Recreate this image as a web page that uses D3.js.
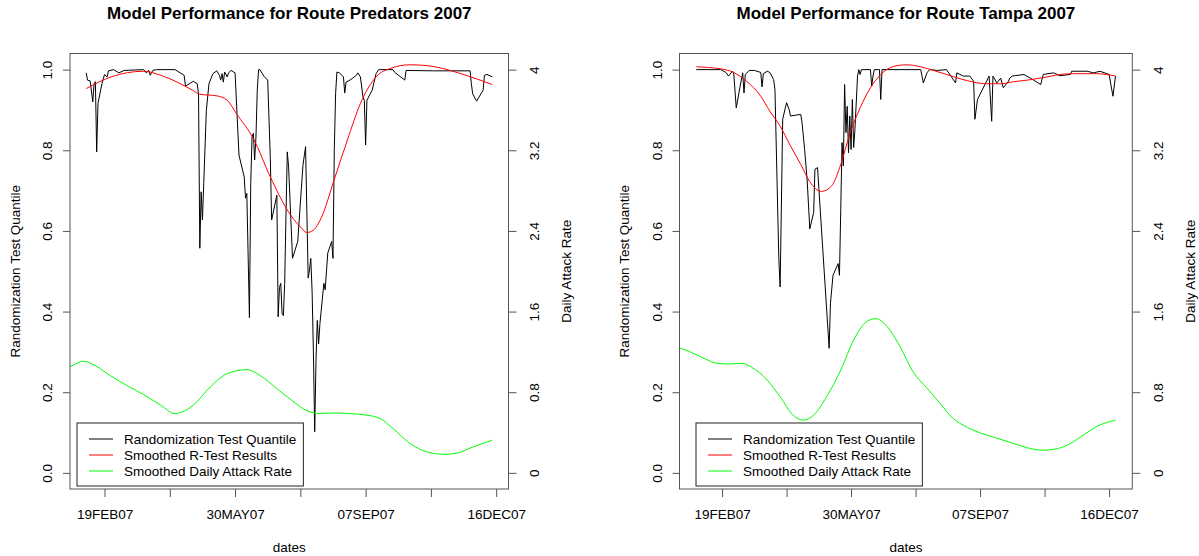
<!DOCTYPE html>
<html>
<head>
<meta charset="utf-8">
<script src="https://cdn.jsdelivr.net/npm/d3@7"></script>
<style>
  body { margin: 0; background: #fff; }
  svg { display: block; }
  text { font-family: "Liberation Sans", Arial, Helvetica, sans-serif; fill: #000; }
</style>
</head>
<body>
<svg id="chart" width="1199" height="556"></svg>
<script>
// ---- Route Predators 2007: [day of year, value] ----
const predatorsQuantile = [
  [36,0.992],[37,0.974],[39,0.972],[41,0.92],[42,0.965],[43,0.97],[44,0.796],[45,0.916],
  [48,0.965],[50,0.988],[52,0.982],[53,0.997],[57,1.0],[61,0.992],[65,0.998],[80,1.0],
  [82,0.992],[84,0.998],[85,0.986],[87,0.998],[90,1.0],[104,1.0],[111,0.986],[112,0.959],
  [118,0.971],[121,0.965],[122,0.94],[123,0.557],[124,0.697],[125,0.627],[126,0.718],[128,0.899],
  [130,0.965],[133,0.99],[136,0.997],[138,0.986],[139,0.974],[140,0.99],[141,0.969],[142,0.994],
  [144,0.982],[145,0.992],[147,0.998],[149,0.994],[150,0.992],[153,0.788],[157,0.734],[158,0.681],
  [159,0.693],[161,0.385],[162,0.718],[163,0.833],[164,0.842],[165,0.776],[166,0.833],[167,0.949],
  [168,1.0],[169,1.0],[172,0.984],[175,0.974],[177,0.78],[178,0.627],[182,0.689],[183,0.387],
  [184,0.46],[185,0.47],[186,0.395],[187,0.39],[188,0.47],[189,0.64],[190,0.796],[191,0.759],
  [194,0.532],[198,0.574],[202,0.763],[204,0.809],[205,0.644],[206,0.483],[207,0.503],[208,0.532],
  [209,0.45],[210,0.3],[211,0.102],[212,0.28],[213,0.378],[214,0.32],[215,0.37],[218,0.47],
  [219,0.454],[221,0.545],[224,0.574],[225,0.532],[226,0.8],[227,0.94],[228,0.994],[230,0.992],
  [233,0.982],[234,0.942],[235,0.969],[238,0.974],[243,0.986],[244,0.992],[246,0.982],[248,0.932],
  [249,0.924],[250,0.813],[251,0.924],[255,0.949],[258,0.99],[260,1.0],[271,1.0],[272,0.994],
  [280,0.974],[281,0.998],[302,0.997],[330,0.997],[331,0.965],[332,0.94],[335,0.922],[340,0.949],
  [341,0.986],[343,0.988],[347,0.982]
];
const predatorsSmoothR = [
  [36,0.953],[55,0.982],[80,0.996],[93,0.986],[118,0.948],[123,0.939],[136,0.935],[144,0.924],
  [151,0.891],[164,0.829],[177,0.734],[190,0.652],[200,0.61],[205,0.596],[210,0.602],[218,0.648],
  [225,0.718],[236,0.825],[246,0.916],[258,0.982],[269,1.003],[284,1.012],[297,1.01],[309,1.003],
  [322,0.991],[335,0.977],[347,0.963]
];
const predatorsAttackRate = [
  [20,1.03],[24,1.055],[34,1.107],[42,1.07],[54,0.968],[67,0.868],[80,0.776],[93,0.672],
  [104,0.588],[118,0.672],[131,0.852],[144,0.984],[159,1.024],[169,0.968],[182,0.836],[195,0.704],
  [205,0.616],[215,0.588],[225,0.594],[238,0.588],[251,0.572],[261,0.54],[271,0.44],[284,0.292],
  [297,0.208],[310,0.184],[320,0.196],[332,0.256],[347,0.324]
];

// ---- Route Tampa 2007: [day of year, value] ----
const tampaQuantile = [
  [30,1.0],[49,1.0],[53,0.993],[55,0.984],[58,0.996],[59,0.992],[61,0.905],[64,0.959],
  [66,0.992],[67,0.942],[68,0.988],[71,0.998],[75,0.998],[80,0.993],[81,0.957],[82,0.99],
  [85,0.996],[87,0.993],[90,0.975],[91,0.95],[94,0.531],[95,0.461],[97,0.877],[99,0.905],
  [100,0.918],[102,0.901],[103,0.885],[111,0.889],[112,0.868],[114,0.802],[116,0.724],[118,0.605],
  [121,0.646],[122,0.753],[124,0.757],[133,0.309],[134,0.42],[136,0.49],[140,0.519],[141,0.49],
  [142,0.654],[143,0.819],[144,0.761],[145,0.963],[146,0.844],[147,0.909],[148,0.794],[149,0.885],
  [150,0.802],[151,0.926],[152,0.807],[153,0.852],[155,0.984],[156,1.0],[157,0.988],[158,1.0],
  [165,1.0],[166,0.959],[167,0.984],[168,1.0],[172,1.0],[173,0.926],[174,1.0],[204,1.0],
  [206,0.967],[209,0.993],[211,1.0],[217,0.998],[224,1.0],[231,0.967],[232,0.992],[237,0.984],
  [242,0.984],[245,0.971],[246,0.877],[248,0.926],[257,0.984],[259,0.872],[260,0.984],[263,0.967],
  [266,0.979],[268,0.955],[272,0.971],[273,0.979],[275,0.984],[284,0.988],[291,0.975],[297,0.963],
  [299,0.988],[307,0.992],[312,0.985],[320,0.988],[321,0.996],[333,0.996],[338,0.992],[343,0.996],
  [350,0.988],[353,0.934],[355,0.984]
];
const tampaSmoothR = [
  [30,1.007],[49,1.002],[59,0.993],[69,0.971],[80,0.934],[87,0.897],[95,0.86],[103,0.811],
  [111,0.765],[118,0.722],[127,0.698],[135,0.712],[142,0.765],[149,0.84],[157,0.905],[165,0.955],
  [173,0.988],[183,1.008],[193,1.012],[204,1.007],[214,0.998],[224,0.988],[235,0.977],[245,0.969],
  [255,0.965],[266,0.965],[276,0.97],[289,0.975],[302,0.982],[315,0.989],[328,0.99],[340,0.99],
  [348,0.988],[355,0.984]
];
const tampaAttackRate = [
  [14,1.25],[18,1.235],[25,1.202],[36,1.136],[46,1.087],[56,1.08],[65,1.087],[73,1.047],
  [85,0.921],[95,0.755],[105,0.573],[113,0.523],[121,0.573],[131,0.755],[142,1.02],[152,1.318],
  [162,1.5],[169,1.53],[178,1.451],[188,1.252],[198,1.003],[209,0.838],[219,0.689],[229,0.54],
  [237,0.473],[250,0.397],[260,0.357],[276,0.291],[289,0.241],[299,0.225],[310,0.241],[320,0.291],
  [330,0.374],[340,0.457],[355,0.523]
];

// ---- Axis ticks and labels ----
const dateTicks = ["2007-02-19","2007-04-10","2007-05-30","2007-07-19","2007-09-07","2007-10-27","2007-12-16"];
const dateTickLabels = ["19FEB07","","30MAY07","","07SEP07","","16DEC07"];
const quantileTicks = [0, 0.2, 0.4, 0.6, 0.8, 1.0];
const rateTicks = [0, 0.8, 1.6, 2.4, 3.2, 4];
const quantileRange = [0, 1];
const rateRange = [0, 4];

const chartTitles = ["Model Performance for Route Predators 2007", "Model Performance for Route Tampa 2007"];
const seriesNames = ["Randomization Test Quantile", "Smoothed R-Test Results", "Smoothed Daily Attack Rate"];
const seriesColors = ["#000000", "#ff0000", "#00ff00"];

// ---- Layout ----
const svg = d3.select("#chart");
const plotTop = 53.5, plotBottom = 489;
const panels = [
  { title: chartTitles[0], left: 70, right: 508.5, legendLeft: 77,
    quantile: predatorsQuantile, smooth: predatorsSmoothR, rate: predatorsAttackRate },
  { title: chartTitles[1], left: 679.5, right: 1132.3, legendLeft: 696,
    quantile: tampaQuantile, smooth: tampaSmoothR, rate: tampaAttackRate }
];

const baseUtc = Date.UTC(2007, 0, 1);
const dayToDate = n => new Date(baseUtc + (n - 1) * 864e5);
const parseDate = d3.utcParse("%Y-%m-%d");
const pad4 = ([a, b]) => { const p = (b - a) * 0.04; return [a - p, b + p]; };

const frameColor = "#555";
const fontSize = 13.5;

panels.forEach((p, i) => {
  const g = svg.append("g");
  const dayExtent = pad4(d3.extent(p.quantile, d => d[0]));
  const x = d3.scaleUtc()
    .domain([dayToDate(dayExtent[0]), dayToDate(dayExtent[1])])
    .range([p.left, p.right]);
  const y = d3.scaleLinear().domain(pad4(quantileRange)).range([plotBottom, plotTop]);
  const yRate = d3.scaleLinear().domain(pad4(rateRange)).range([plotBottom, plotTop]);

  const clipId = "clip" + i;
  svg.append("clipPath").attr("id", clipId).append("rect")
    .attr("x", p.left).attr("y", plotTop)
    .attr("width", p.right - p.left).attr("height", plotBottom - plotTop);

  const plot = g.append("g").attr("clip-path", `url(#${clipId})`);

  const rawLine = d3.line().x(d => x(dayToDate(d[0]))).y(d => y(d[1]));
  const smoothLine = d3.line().curve(d3.curveMonotoneX)
    .x(d => x(dayToDate(d[0]))).y(d => y(d[1]));
  const rateLine = d3.line().curve(d3.curveMonotoneX)
    .x(d => x(dayToDate(d[0]))).y(d => yRate(d[1]));

  plot.append("path").datum(p.quantile).attr("d", rawLine)
    .attr("fill", "none").attr("stroke", seriesColors[0]).attr("stroke-width", 1);
  plot.append("path").datum(p.smooth).attr("d", smoothLine)
    .attr("fill", "none").attr("stroke", seriesColors[1]).attr("stroke-width", 1);
  plot.append("path").datum(p.rate).attr("d", rateLine)
    .attr("fill", "none").attr("stroke", seriesColors[2]).attr("stroke-width", 1);

  // frame
  g.append("rect")
    .attr("x", p.left).attr("y", plotTop)
    .attr("width", p.right - p.left).attr("height", plotBottom - plotTop)
    .attr("fill", "none").attr("stroke", frameColor).attr("stroke-width", 1);

  // bottom axis
  const xAxis = d3.axisBottom(x)
    .tickValues(dateTicks.map(parseDate))
    .tickFormat((d, k) => dateTickLabels[k])
    .tickSize(8).tickPadding(12);
  const gx = g.append("g").attr("transform", `translate(0,${plotBottom})`).call(xAxis);
  gx.select(".domain").remove();
  gx.selectAll(".tick line").attr("stroke", frameColor);
  gx.selectAll("text").attr("font-size", fontSize).attr("font-family", null);

  // left axis (quantile)
  const yAxis = d3.axisLeft(y).tickValues(quantileTicks).tickFormat(d3.format(".1f")).tickSize(7);
  const gy = g.append("g").attr("transform", `translate(${p.left},0)`).call(yAxis);
  gy.select(".domain").remove();
  gy.selectAll(".tick line").attr("stroke", frameColor);
  gy.selectAll("text")
    .attr("x", null).attr("dy", "0.35em").attr("text-anchor", "middle")
    .attr("transform", "translate(-22.5,0) rotate(-90)")
    .attr("font-size", fontSize).attr("font-family", null);

  // right axis (attack rate)
  const rAxis = d3.axisRight(yRate).tickValues(rateTicks).tickFormat(d3.format("~g")).tickSize(8);
  const gr = g.append("g").attr("transform", `translate(${p.right},0)`).call(rAxis);
  gr.select(".domain").remove();
  gr.selectAll(".tick line").attr("stroke", frameColor);
  gr.selectAll("text")
    .attr("x", null).attr("dy", "0.35em").attr("text-anchor", "middle")
    .attr("transform", "translate(26,0) rotate(-90)")
    .attr("font-size", fontSize).attr("font-family", null);

  const cx = (p.left + p.right) / 2, cy = (plotTop + plotBottom) / 2;

  // titles
  g.append("text").attr("x", cx).attr("y", 19).attr("text-anchor", "middle")
    .attr("font-size", 17).attr("font-weight", "bold").text(p.title);
  g.append("text").attr("x", cx).attr("y", 552).attr("text-anchor", "middle")
    .attr("font-size", fontSize).text("dates");
  g.append("text").attr("text-anchor", "middle").attr("dy", "0.35em")
    .attr("transform", `translate(${p.left - 55},${cy}) rotate(-90)`)
    .attr("font-size", fontSize).text("Randomization Test Quantile");
  g.append("text").attr("text-anchor", "middle").attr("dy", "0.35em")
    .attr("transform", `translate(${p.right + 58},${cy}) rotate(-90)`)
    .attr("font-size", fontSize).text("Daily Attack Rate");

  // legend
  const lg = g.append("g");
  const rowY = [439, 455, 471];
  const box = lg.append("rect").attr("fill", "#fff").attr("stroke", "#222").attr("stroke-width", 1);
  let maxW = 0;
  seriesNames.forEach((name, k) => {
    lg.append("line")
      .attr("x1", p.legendLeft + 12).attr("x2", p.legendLeft + 36)
      .attr("y1", rowY[k]).attr("y2", rowY[k])
      .attr("stroke", seriesColors[k]).attr("stroke-width", 1);
    const t = lg.append("text")
      .attr("x", p.legendLeft + 47).attr("y", rowY[k]).attr("dy", "0.35em")
      .attr("font-size", fontSize).text(name);
    maxW = Math.max(maxW, t.node().getComputedTextLength());
  });
  box.attr("x", p.legendLeft).attr("y", 423)
    .attr("width", 47 + maxW + 7).attr("height", 63);
});
</script>
</body>
</html>
